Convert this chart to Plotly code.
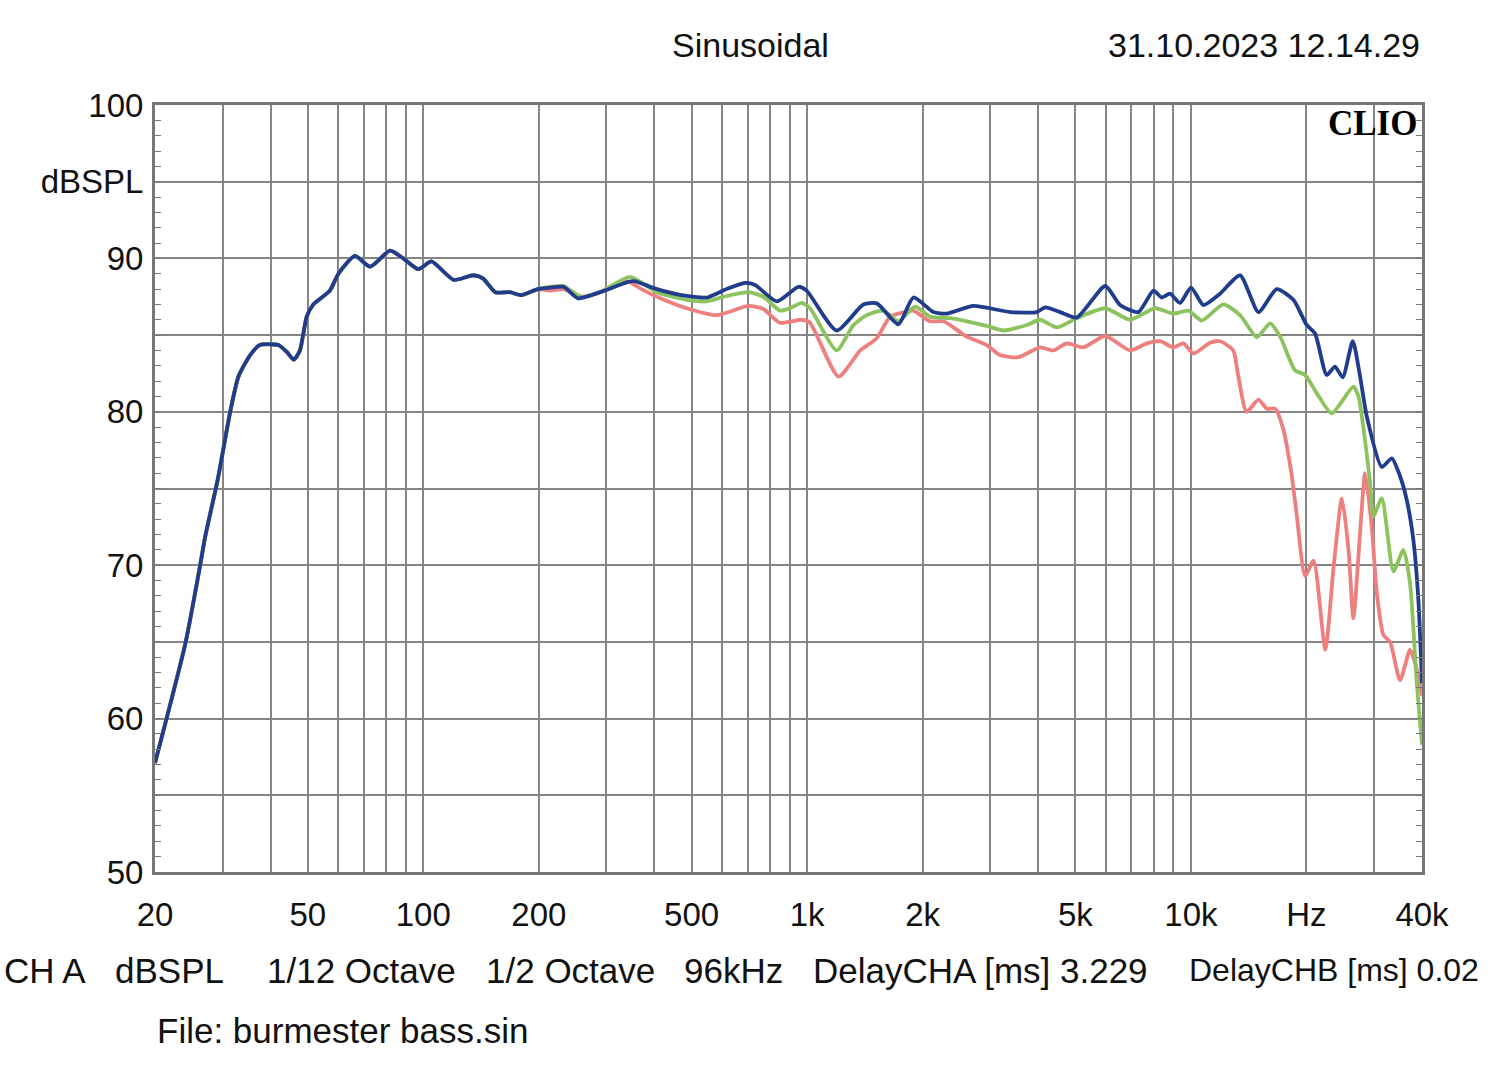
import plotly.graph_objects as go

# ---------------- data ----------------
# common part (all three curves coincide below ~200 Hz)
low_hz = [20, 24, 26.2, 27.0, 29.2, 31.4, 33, 35.4, 37.5, 41.9, 44.1, 46, 47.7, 49.7,
          51.7, 57.1, 60.1, 66.4, 72.7, 81.9, 88.7, 97.1, 105, 120, 135, 143, 154,
          168, 180, 199]
low_db = [57.1, 64.9, 69.95, 71.8, 75.7, 80.0, 82.3, 83.7, 84.35, 84.35, 83.9, 83.4, 84.0,
          86.2, 87.0, 87.9, 89.0, 90.16, 89.46, 90.5, 90.0, 89.3, 89.8, 88.6, 88.9,
          88.7, 87.8, 87.8, 87.6, 88.0]

blue_hz = [214, 232, 253, 289, 346, 357, 406, 486, 548, 617, 689, 732, 834, 949, 997,
           1194, 1401, 1519, 1729, 1892, 2134, 2311, 2712, 3379, 3965, 4168, 4560, 5040,
           5981, 6536, 7298, 7985, 8392, 8822, 9370, 10005, 10780, 11910, 13430, 15000,
           16730, 18490, 20030, 21060, 22580, 23740, 24860, 26400, 27590, 28720, 31430,
           33370, 35070, 36500, 38000, 39150, 40000]
blue_db = [88.1, 88.15, 87.4, 87.8, 88.5, 88.5, 88.0, 87.55, 87.45, 88.0, 88.4, 88.27,
           87.2, 88.15, 87.9, 85.3, 87.0, 87.07, 85.7, 87.45, 86.5, 86.4, 86.9, 86.5,
           86.5, 86.8, 86.5, 86.15, 88.2, 86.96, 86.5, 87.9, 87.45, 87.7, 87.1, 88.1,
           86.96, 87.7, 88.9, 86.5, 88.0, 87.3, 85.66, 85.1, 82.4, 82.95, 82.25, 84.6,
           82.3, 79.7, 76.4, 76.97, 75.8, 74.25, 71.6, 67.7, 62.3]

green_hz = [214, 232, 258, 289, 346, 406, 486, 548, 617, 703, 769, 850, 903, 968, 1018,
            1194, 1320, 1430, 1580, 1729, 1911, 2090, 2357, 2606, 2937, 3246, 3735, 4045,
            4472, 5040, 5981, 6941, 8065, 9003, 9850, 10670, 12150, 13430, 14850, 16090,
            17080, 18680, 19840, 21280, 23280, 26500, 27320, 28300, 29290, 29880, 31430,
            33700, 35780, 37240, 38760, 40000]
green_db = [88.15, 88.2, 87.5, 87.8, 88.8, 87.8, 87.3, 87.2, 87.55, 87.8, 87.5, 86.6,
            86.75, 87.1, 86.75, 84.0, 85.65, 86.3, 86.6, 85.9, 86.85, 86.2, 86.1, 85.9,
            85.6, 85.3, 85.66, 86.0, 85.5, 86.1, 86.75, 86.0, 86.75, 86.4, 86.6, 85.95,
            87.0, 86.3, 84.86, 85.77, 84.9, 82.7, 82.4, 81.2, 79.9, 81.64, 81.0, 78.5,
            75.4, 73.2, 74.36, 69.6, 71.0, 68.8, 62.3, 58.3]

red_hz = [214, 232, 258, 289, 340, 370, 406, 486, 581, 703, 769, 850, 968, 1018, 1207,
          1376, 1519, 1645, 1790, 1892, 2090, 2265, 2606, 2937, 3181, 3552, 4045, 4383,
          4749, 5247, 5981, 6941, 7675, 8314, 9003, 9560, 10150, 11220, 11910, 12890,
          13290, 13970, 15000, 15770, 16580, 17430, 18320, 18880, 19840, 20870, 22390,
          23540, 24740, 25740, 26500, 27590, 28430, 29590, 30500, 31740, 33030, 35070,
          37240, 38390, 40000]
red_db = [87.9, 88.0, 87.5, 87.8, 88.5, 88.0, 87.5, 86.75, 86.3, 86.9, 86.7, 85.8, 86.0,
          85.8, 82.3, 84.0, 84.8, 86.2, 86.5, 86.6, 85.9, 85.9, 84.9, 84.35, 83.7, 83.56,
          84.2, 84.0, 84.46, 84.2, 84.94, 84.0, 84.46, 84.6, 84.2, 84.46, 83.8, 84.5,
          84.6, 84.0, 82.3, 80.0, 80.8, 80.2, 80.2, 78.8, 75.8, 73.2, 69.3, 70.3, 64.5,
          69.9, 74.36, 71.0, 66.54, 72.1, 76.0, 72.5, 68.2, 65.45, 65.0, 62.5, 64.5,
          63.6, 61.5]

grid_hz = [20, 30, 40, 50, 60, 70, 80, 90, 100, 200, 300, 400, 500, 600, 700, 800, 900,
           1000, 2000, 3000, 4000, 5000, 6000, 7000, 8000, 9000, 10000, 20000, 30000, 40000]
x_labels = {20: "20", 50: "50", 100: "100", 200: "200", 500: "500", 1000: "1k",
            2000: "2k", 5000: "5k", 10000: "10k", 20000: "Hz", 40000: "40k"}
y_ticks = [50, 55, 60, 65, 70, 75, 80, 85, 90, 95, 100]
y_labels = ["50", "", "60", "", "70", "", "80", "", "90", "dBSPL", "100"]

footer = [(2, "CH A"), (113, "dBSPL"), (265, "1/12 Octave"), (484, "1/2 Octave"),
          (682, "96kHz"), (811, "DelayCHA [ms] 3.229"), (1187, "DelayCHB [ms] 0.02")]

# ---------------- figure ----------------
FONT = "Liberation Sans, Arial, sans-serif"
L, R, T, B = 155, 1422, 105, 872


def px(x):
    return (x - L) / (R - L)


def py(y):
    return (B - y) / (B - T)


fig = go.Figure()
series = [
    ("red", low_hz + red_hz, low_db + red_db, "#ee7f7f"),
    ("green", low_hz + green_hz, low_db + green_db, "#8cc35e"),
    ("blue", low_hz + blue_hz, low_db + blue_db, "#203c8c"),
]
for name, xs, ys, col in series:
    fig.add_trace(go.Scatter(x=xs, y=ys, mode="lines", name=name,
                             line=dict(color=col, width=3.8, shape="spline", smoothing=0.6),
                             showlegend=False, hoverinfo="skip"))

fig.update_xaxes(type="log", range=[1.30103, 4.60206],
                 tickvals=grid_hz, ticktext=[x_labels.get(v, "") for v in grid_hz],
                 showgrid=True, gridcolor="#858585", gridwidth=1.6,
                 showline=True, linecolor="#767676", linewidth=3, mirror=True,
                 ticks="", tickfont=dict(family=FONT, size=33, color="#111"),
                 ticklabelstandoff=11, zeroline=False, fixedrange=True)
fig.update_yaxes(range=[50, 100], tickvals=y_ticks, ticktext=y_labels,
                 showgrid=True, gridcolor="#858585", gridwidth=1.6,
                 showline=True, linecolor="#767676", linewidth=3, mirror="allticks",
                 ticks="inside", ticklen=6, tickcolor="#767676", tickwidth=1,
                 minor=dict(dtick=1, ticks="inside", ticklen=6, tickcolor="#767676",
                            tickwidth=1, showgrid=False),
                 tickfont=dict(family=FONT, size=33, color="#111"),
                 ticklabelstandoff=2, zeroline=False, fixedrange=True)

ann = [
    dict(x=px(750), y=py(45), text="Sinusoidal", xanchor="center", yanchor="middle",
         font=dict(family=FONT, size=34, color="#111")),
    dict(x=px(1422), y=py(45), text="31.10.2023 12.14.29", xanchor="right", yanchor="middle",
         font=dict(family=FONT, size=34, color="#111")),
    dict(x=px(1419), y=py(123), text="<b>CLIO</b>", xanchor="right", yanchor="middle",
         font=dict(family="Liberation Serif, Times New Roman, serif", size=35, color="#000")),
    dict(x=px(155), y=py(1030), text="File: burmester bass.sin", xanchor="left",
         yanchor="middle", font=dict(family=FONT, size=35, color="#111")),
]
for i, (xpos, txt) in enumerate(footer):
    size = 35 if i < len(footer) - 1 else 32
    ann.append(dict(x=px(xpos), y=py(970), text=txt, xanchor="left", yanchor="middle",
                    font=dict(family=FONT, size=size, color="#111")))
for a in ann:
    a.update(xref="paper", yref="paper", showarrow=False)

fig.update_layout(width=1500, height=1074,
                  margin=dict(l=L, r=1500 - R, t=T, b=1074 - B),
                  paper_bgcolor="white", plot_bgcolor="white",
                  annotations=ann, showlegend=False)

fig.write_html("out.html", include_plotlyjs=True, config={"displayModeBar": False})
